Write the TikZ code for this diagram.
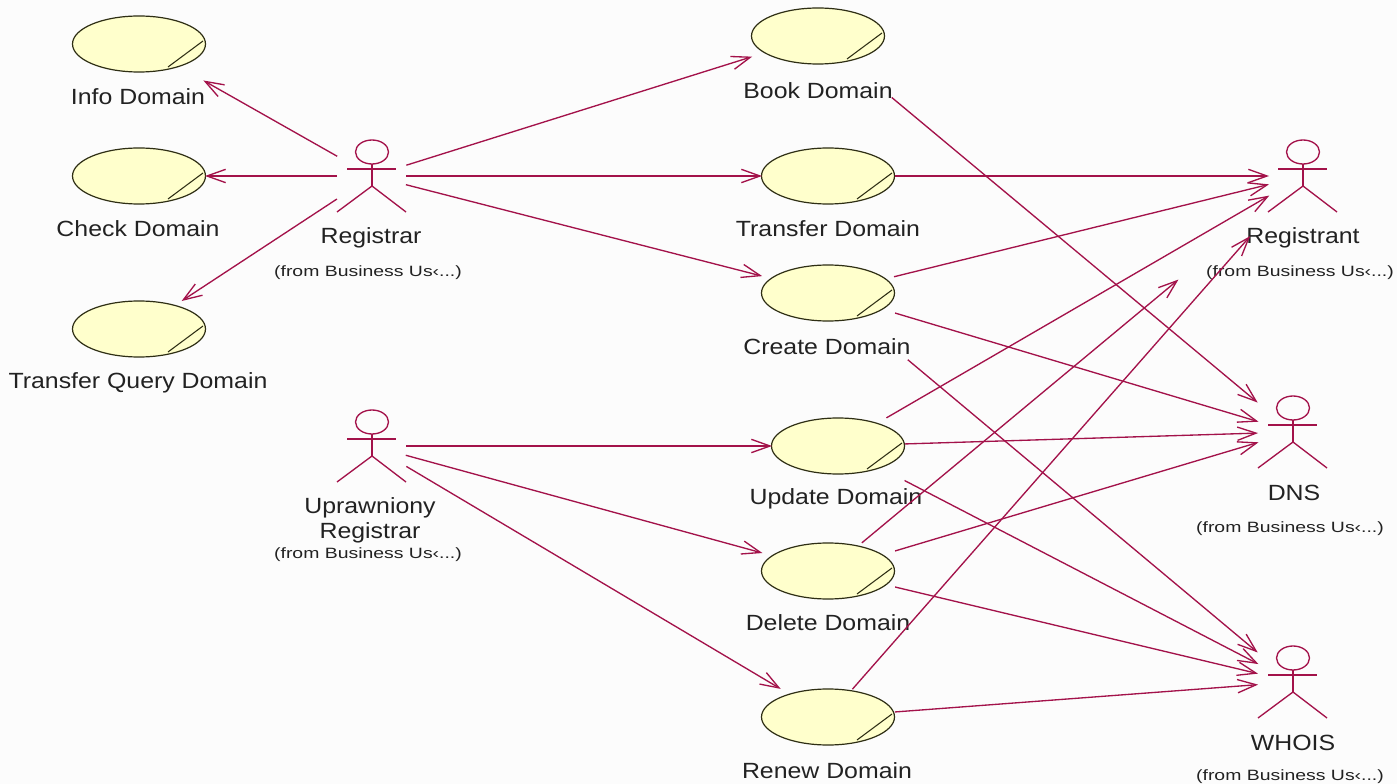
\documentclass[tikz,border=0pt]{standalone}
\usepackage{fontspec}
\usetikzlibrary{arrows.meta,shapes.geometric}
\newfontfamily\lblfont[FakeStretch=1.13]{Liberation Sans}
\newfontfamily\subfont[FakeStretch=1.3]{Liberation Sans}
\definecolor{umlred}{HTML}{A3124A}
\definecolor{ucfill}{HTML}{FFFFCC}
\definecolor{ucline}{HTML}{2E2E14}
\definecolor{txt}{HTML}{222222}
\tikzset{
  x=0.75pt,y=-0.75pt,
  ucase/.style={ellipse,draw=ucline,fill=ucfill,line width=0.9pt,minimum width=99.75pt,minimum height=42pt,inner sep=0pt},
  chordline/.style={draw=ucline,line width=0.8pt},
  actorline/.style={draw=umlred,line width=1pt},
  lbl/.style={font=\lblfont\fontsize{16.5}{18.75}\selectfont,text=txt,inner sep=0pt,align=center},
  sublbl/.style={font=\subfont\fontsize{11.2}{14}\selectfont,text=txt,inner sep=0pt},
  assoc/.style={draw=umlred,line width=1pt,-{Straight Barb[length=14pt,width=10pt,line width=1pt]}},
}
\newcommand{\usecase}[4]{%
  \node[ucase] (#1) at (#2,#3) {};
  \draw[chordline] ([shift={(29,23)}]#1.center) -- ([shift={(64,-3)}]#1.center);
}
\newcommand{\actorfig}[3]{%
  \coordinate (#1) at (#2,#3);
  \draw[actorline] ([shift={(0,-24)}]#1) ellipse [x radius=16.5,y radius=12];
  \draw[actorline] ([shift={(0,-12)}]#1) -- ([shift={(0,10)}]#1);
  \draw[actorline] ([shift={(-25,-7)}]#1) -- ([shift={(24,-7)}]#1);
  \draw[actorline] ([shift={(-35,36)}]#1) -- ([shift={(0,10)}]#1) -- ([shift={(34,36)}]#1);
}
\newcommand{\conn}[4]{\draw[assoc,shorten <=#3*0.75pt,shorten >=#4*0.75pt] (#1.center) -- (#2.center);}
\begin{document}
\begin{tikzpicture}
\useasboundingbox (0,0) rectangle (1397,784);
\fill[white!99!black] (0,0) rectangle (1397,784);

\usecase{info}{139}{44}{}
\usecase{check}{139}{176}{}
\usecase{tquery}{139}{329}{}
\usecase{book}{818}{36}{}
\usecase{transfer}{828}{176}{}
\usecase{create}{828}{293}{}
\usecase{update}{838}{446}{}
\usecase{delete}{828}{571}{}
\usecase{renew}{828}{717}{}

\actorfig{registrar}{372}{176}
\actorfig{upr}{372}{446}
\actorfig{registrant}{1303}{176}
\actorfig{dns}{1293}{432}
\actorfig{whois}{1293}{682}

\node[lbl] (linfo) at (138,97) {Info Domain};
\node[lbl] (lcheck) at (138,229) {Check Domain};
\node[lbl] (ltquery) at (138,383) {Transfer Query Domain};
\node[lbl] (lbook) at (818,91) {Book Domain};
\node[lbl] (ltransfer) at (828,229) {Transfer Domain};
\node[lbl] (lcreate) at (827,347) {Create Domain};
\node[lbl] (lupdate) at (836,499) {Update Domain};
\node[lbl] (ldelete) at (828,623) {Delete Domain};
\node[lbl] (lrenew) at (827,771) {Renew Domain};
\node[lbl] (lregistrar) at (371,238) {Registrar};
\node[sublbl] (sregistrar) at (368,273) {(from Business Us‹...)};
\node[lbl] (lupr) at (370,520) {Uprawniony\\Registrar};
\node[sublbl] (supr) at (368,555) {(from Business Us‹...)};
\node[lbl] (lregistrant) at (1303,238) {Registrant};
\node[sublbl] (sregistrant) at (1300,273) {(from Business Us‹...)};
\node[lbl] (ldns) at (1294,493) {DNS};
\node[sublbl] (sdns) at (1290,529) {(from Business Us‹...)};
\node[lbl] (lwhois) at (1293,743) {WHOIS};
\node[sublbl] (swhois) at (1290,777) {(from Business Us‹...)};

\conn{registrar}{info}{40}{74}
\conn{registrar}{check}{35}{66}
\conn{registrar}{tquery}{42}{51}
\conn{registrar}{book}{36}{69}
\conn{registrar}{transfer}{34}{66}
\conn{registrar}{create}{35}{68}
\conn{upr}{update}{34}{66}
\conn{upr}{delete}{35}{68}
\conn{upr}{renew}{40}{55}
\conn{transfer}{registrant}{67}{34}
\conn{create}{registrant}{68}{35}
\conn{update}{registrant}{56}{39}
\conn{delete}{registrant}{44}{162}
\conn{renew}{registrant}{37}{80}
\conn{book}{dns}{96}{46}
\conn{create}{dns}{70}{36}
\conn{update}{dns}{67}{35}
\conn{delete}{dns}{70}{36}
\conn{create}{whois}{104}{46}
\conn{update}{whois}{75}{39}
\conn{delete}{whois}{69}{36}
\conn{renew}{whois}{67}{35}
\end{tikzpicture}
\end{document}
